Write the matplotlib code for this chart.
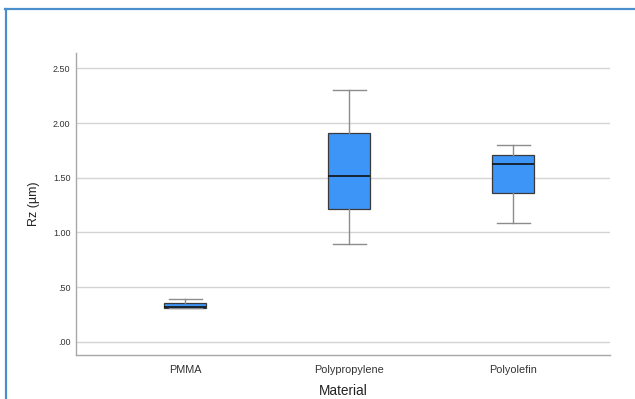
import matplotlib.pyplot as plt
from matplotlib.lines import Line2D

# Box statistics
materials = ['PMMA', 'Polypropylene', 'Polyolefin']
whislo = [0.31, 0.89, 1.09]
q1 = [0.31, 1.21, 1.36]
med = [0.315, 1.515, 1.625]
q3 = [0.355, 1.91, 1.71]
whishi = [0.39, 2.30, 1.80]
yticks = [0.0, 0.5, 1.0, 1.5, 2.0, 2.5]
ytick_labels = ['.00', '.50', '1.00', '1.50', '2.00', '2.50']

plt.rcParams['font.family'] = ['Liberation Sans', 'DejaVu Sans']

fig = plt.figure(figsize=(6.35, 3.99), dpi=100)
W, H = 635, 399
ax = fig.add_axes([76 / W, 1 - 355 / H, (610 - 76) / W, (355 - 53) / H])

stats = []
for i, name in enumerate(materials):
    stats.append(dict(label=name, whislo=whislo[i], q1=q1[i], med=med[i],
                      q3=q3[i], whishi=whishi[i], fliers=[]))

ax.bxp(stats, positions=range(len(materials)), widths=0.256,
       patch_artist=True, showfliers=False, zorder=3,
       boxprops=dict(facecolor='#3d95f7', edgecolor='#3a3a3a', linewidth=0.9),
       medianprops=dict(color='#111111', linewidth=1.2),
       whiskerprops=dict(color='#8c8c8c', linewidth=1.0),
       capprops=dict(color='#8c8c8c', linewidth=1.0),
       capwidths=0.2)

ax.set_xlim(-0.665, 2.59)
ax.set_ylim(-0.12, 2.64)
ax.set_yticks(yticks)
ax.set_yticklabels(ytick_labels)
ax.set_xticks(range(len(materials)))
ax.set_xticklabels(materials)
ax.yaxis.grid(True, color='#d4d4d4', linewidth=1.0, zorder=0)
ax.set_axisbelow(True)
ax.tick_params(length=0, labelsize=6.5, labelcolor='#333333', pad=4)
ax.tick_params(axis='x', labelsize=7.8, pad=7)

for s in ['top', 'right']:
    ax.spines[s].set_visible(False)
for s in ['left', 'bottom']:
    ax.spines[s].set_color('#a8a8a8')
    ax.spines[s].set_linewidth(1.0)

ax.set_ylabel('Rz (µm)', fontsize=9, labelpad=9, color='#222222')
ax.set_xlabel('Material', fontsize=9.8, labelpad=7, color='#222222')

# blue frame on top and left of the figure
fig.add_artist(Line2D([5 / W, 1], [1 - 8.5 / H, 1 - 8.5 / H],
                      transform=fig.transFigure, color='#4a8ecb', linewidth=1.6))
fig.add_artist(Line2D([5.5 / W, 5.5 / W], [0, 1 - 8.5 / H],
                      transform=fig.transFigure, color='#4a8ecb', linewidth=1.6))

fig.savefig('out.png', dpi=100)
